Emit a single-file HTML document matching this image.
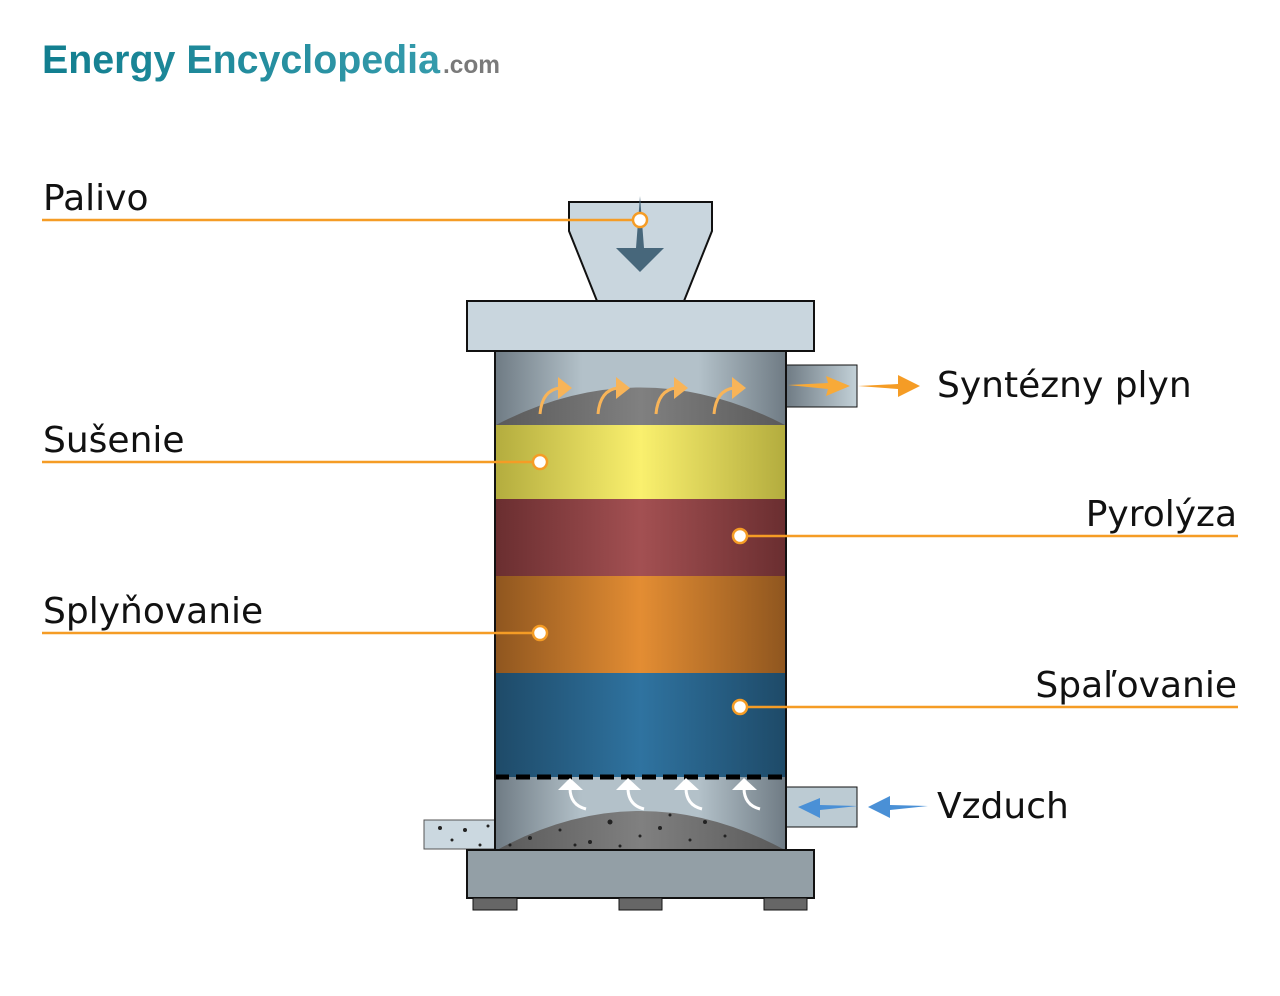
<!DOCTYPE html>
<html><head><meta charset="utf-8"><style>
html,body{margin:0;padding:0;background:#fff;width:1280px;height:996px;overflow:hidden}
svg{display:block}
.lbl{font-family:"DejaVu Sans","Liberation Sans",sans-serif}
</style></head><body>
<svg width="1280" height="996" viewBox="0 0 1280 996" xmlns="http://www.w3.org/2000/svg">
<defs>
<linearGradient id="cyl" x1="0" x2="1"><stop offset="0" stop-color="#6f7b84"/><stop offset="0.3" stop-color="#b3c1c9"/><stop offset="0.7" stop-color="#b3c1c9"/><stop offset="1" stop-color="#6f7b84"/></linearGradient>
<linearGradient id="dome" x1="0" x2="1"><stop offset="0" stop-color="#5a5a5a"/><stop offset="0.5" stop-color="#808080"/><stop offset="1" stop-color="#5a5a5a"/></linearGradient>
<linearGradient id="yel" x1="0" x2="1"><stop offset="0" stop-color="#b3ac3e"/><stop offset="0.5" stop-color="#faf06e"/><stop offset="1" stop-color="#b3ac3e"/></linearGradient>
<linearGradient id="red" x1="0" x2="1"><stop offset="0" stop-color="#6a2e30"/><stop offset="0.5" stop-color="#a35052"/><stop offset="1" stop-color="#6a2e30"/></linearGradient>
<linearGradient id="ora" x1="0" x2="1"><stop offset="0" stop-color="#8f561f"/><stop offset="0.5" stop-color="#e38d33"/><stop offset="1" stop-color="#8f561f"/></linearGradient>
<linearGradient id="blu" x1="0" x2="1"><stop offset="0" stop-color="#1e4a68"/><stop offset="0.5" stop-color="#2f73a0"/><stop offset="1" stop-color="#1e4a68"/></linearGradient>
<linearGradient id="pipe" x1="0" x2="1"><stop offset="0" stop-color="#6f7b84"/><stop offset="1" stop-color="#c3d1d8"/></linearGradient>
<linearGradient id="logo" x1="0" x2="1"><stop offset="0" stop-color="#117e8f"/><stop offset="1" stop-color="#3a9fb0"/></linearGradient>
</defs>
<text x="42" y="73" style="font-family:'Liberation Sans',sans-serif;font-weight:bold;font-size:40px" fill="url(#logo)"><tspan textLength="398" lengthAdjust="spacingAndGlyphs">Energy Encyclopedia</tspan><tspan x="443" style="font-size:25px" fill="#7a7a7a" textLength="57" lengthAdjust="spacingAndGlyphs">.com</tspan></text>

<path d="M569 202 L569 231 L597 301 L684 301 L712 231 L712 202 Z" fill="#c9d6de" stroke="#111" stroke-width="2"/>
<polygon points="640,196 644,248 664,248 640,272 616,248 636,248" fill="#47677b"/>
<rect x="467" y="301" width="347" height="50" fill="#c9d6de" stroke="#111" stroke-width="2"/>
<rect x="786" y="365" width="71" height="42" fill="url(#pipe)" stroke="#111" stroke-width="1"/>
<rect x="786" y="787" width="71" height="40" fill="#bccbd3" stroke="#111" stroke-width="1"/>
<rect x="424" y="820" width="72" height="29" fill="#cbd8e0" stroke="#555" stroke-width="1"/>
<rect x="495" y="351" width="291" height="74" fill="url(#cyl)"/>
<path d="M496 425 Q640 350 785 425 Z" fill="url(#dome)"/>
<rect x="495" y="425" width="291" height="74" fill="url(#yel)"/>
<rect x="495" y="499" width="291" height="77" fill="url(#red)"/>
<rect x="495" y="576" width="291" height="97" fill="url(#ora)"/>
<rect x="495" y="673" width="291" height="104" fill="url(#blu)"/>
<rect x="495" y="777" width="291" height="73" fill="url(#cyl)"/>
<path d="M497 850 Q640 772 785 850 Z" fill="url(#dome)"/>
<line x1="495" y1="777" x2="786" y2="777" stroke="#000" stroke-width="5" stroke-dasharray="14,7"/>
<rect x="495" y="351" width="291" height="499" fill="none" stroke="#111" stroke-width="2"/>
<g fill="#222">
<circle cx="440" cy="828" r="2"/><circle cx="452" cy="840" r="1.5"/><circle cx="465" cy="830" r="2"/><circle cx="480" cy="845" r="1.5"/><circle cx="488" cy="826" r="1.5"/><circle cx="530" cy="838" r="2"/><circle cx="560" cy="830" r="1.5"/><circle cx="590" cy="842" r="2"/><circle cx="610" cy="822" r="2.5"/><circle cx="640" cy="836" r="1.5"/><circle cx="660" cy="828" r="2"/><circle cx="690" cy="840" r="1.5"/><circle cx="705" cy="822" r="2"/><circle cx="725" cy="836" r="1.5"/><circle cx="575" cy="845" r="1.5"/><circle cx="510" cy="845" r="1.5"/><circle cx="620" cy="846" r="1.5"/><circle cx="670" cy="815" r="1.5"/>
</g>
<rect x="467" y="850" width="347" height="48" fill="#939fa6" stroke="#111" stroke-width="2"/>
<rect x="473" y="898" width="44" height="12" fill="#666" stroke="#111"/>
<rect x="619" y="898" width="43" height="12" fill="#666" stroke="#111"/>
<rect x="764" y="898" width="43" height="12" fill="#666" stroke="#111"/>
<g fill="none" stroke="#f8b458" stroke-width="3">
<path d="M540 414 Q542 390 560 388"/><path d="M598 414 Q600 390 618 388"/><path d="M656 414 Q658 390 676 388"/><path d="M714 414 Q716 390 734 388"/>
</g>
<g fill="#f8b458">
<polygon points="558,377 572,388 558,399"/><polygon points="616,377 630,388 616,399"/><polygon points="674,377 688,388 674,399"/><polygon points="732,377 746,388 732,399"/>
</g>
<polygon points="788,385 828,383 826,376 850,386 826,396 828,389" fill="#f8aa38"/>
<polygon points="858,386 898,384 898,375 920,386 898,397 898,389" fill="#f59c25"/>
<g fill="none" stroke="#fff" stroke-width="3">
<path d="M586 809 Q570 805 570 788"/><path d="M644 809 Q628 805 628 788"/><path d="M702 809 Q686 805 686 788"/><path d="M760 809 Q744 805 744 788"/>
</g>
<g fill="#fff">
<polygon points="558,790 570,778 583,790"/><polygon points="616,790 628,778 641,790"/><polygon points="674,790 686,778 699,790"/><polygon points="732,790 744,778 757,790"/>
</g>
<polygon points="858,806 820,805 820,798 798,807 820,818 820,810" fill="#4a90d6"/>
<polygon points="928,806 890,805 890,796 868,807 890,818 890,810" fill="#4a90d6"/>
<g stroke="#f59c25" stroke-width="2.5">
<line x1="42" y1="220" x2="640" y2="220"/><line x1="42" y1="462" x2="540" y2="462"/><line x1="740" y1="536" x2="1238" y2="536"/><line x1="42" y1="633" x2="540" y2="633"/><line x1="740" y1="707" x2="1238" y2="707"/>
</g>
<g fill="#fff" stroke="#f59c25" stroke-width="2.5">
<circle cx="640" cy="220" r="7"/><circle cx="540" cy="462" r="7"/><circle cx="740" cy="536" r="7"/><circle cx="540" cy="633" r="7"/><circle cx="740" cy="707" r="7"/>
</g>
<g font-size="36" fill="#111" class="lbl">
<text x="43" y="210">Palivo</text>
<text x="43" y="452">Sušenie</text>
<text x="1237" y="526" text-anchor="end">Pyrolýza</text>
<text x="43" y="623">Splyňovanie</text>
<text x="1237" y="697" text-anchor="end">Spaľovanie</text>
<text x="937" y="397">Syntézny plyn</text>
<text x="937" y="818">Vzduch</text>
</g>
</svg>
</body></html>
